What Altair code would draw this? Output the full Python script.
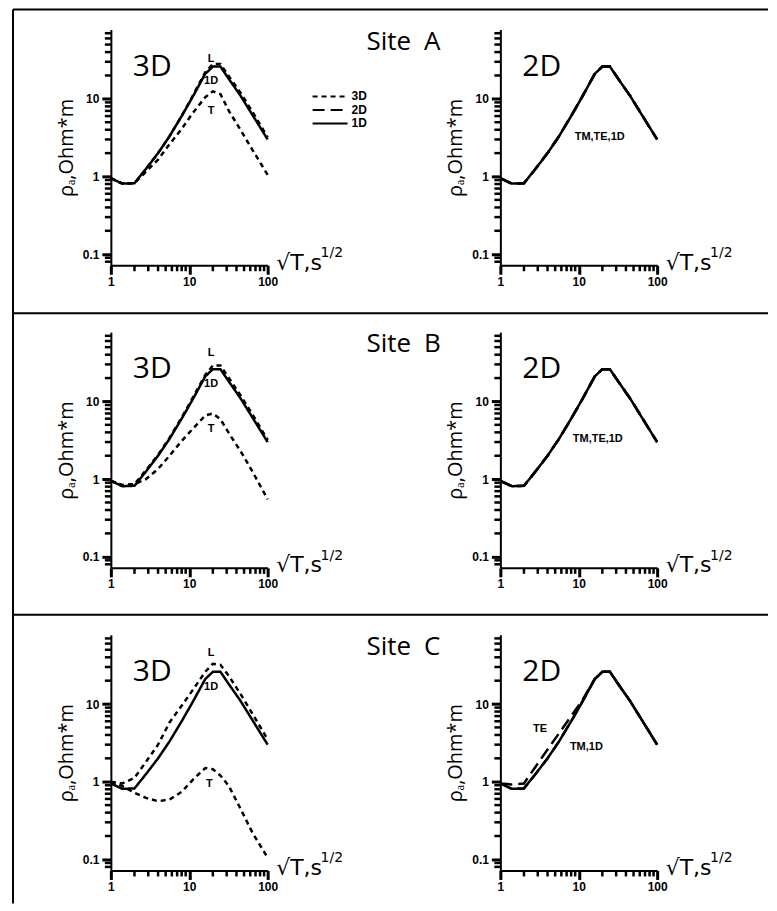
import altair as alt
import pandas as pd

# ---------------- data ----------------
SQRT_T = [1, 1.4, 2, 2.8, 4, 5.6, 8, 11, 16, 20, 25, 32, 45, 64, 100]

RHO_1D = [0.95, 0.81, 0.82, 1.25, 2.0, 3.3, 6.0, 10.5, 21, 26, 26, 18, 11, 6.2, 3.0]

A_3D_L = [0.95, 0.81, 0.82, 1.25, 2.0, 3.3, 6.0, 10.8, 22, 28, 28, 19.5, 12, 6.8, 3.2]
A_3D_T = [0.95, 0.81, 0.82, 1.15, 1.65, 2.6, 4.1, 6.5, 10.5, 12.5, 11.5, 7.0, 4.0, 2.2, 1.05]
B_3D_L = [0.95, 0.83, 0.86, 1.3, 2.05, 3.4, 6.2, 11, 22, 29, 29, 20, 12, 6.8, 3.2]
B_3D_T = [0.95, 0.84, 0.86, 1.0, 1.35, 2.0, 3.1, 4.4, 6.6, 7.0, 5.9, 3.9, 2.3, 1.25, 0.55]
C_3D_L = [1.0, 0.95, 1.12, 1.8, 3.0, 5.8, 9.5, 15, 26, 33, 32, 23, 13.5, 7.5, 3.5]
C_3D_T = [1.0, 0.88, 0.72, 0.62, 0.56, 0.59, 0.74, 1.05, 1.5, 1.45, 1.2, 0.88, 0.45, 0.22, 0.105]

A_2D_TE = [0.95, 0.81, 0.82, 1.25, 2.0, 3.3, 6.0, 10.5, 21, 26, 26, 18, 11, 6.2, 3.0]
A_2D_TM = [0.95, 0.81, 0.82, 1.25, 2.0, 3.3, 6.0, 10.5, 21, 26, 26, 18, 11, 6.2, 3.0]
B_2D_TE = [0.95, 0.81, 0.82, 1.25, 2.0, 3.3, 6.0, 10.5, 21, 26, 26, 18, 11, 6.2, 3.0]
B_2D_TM = [0.95, 0.81, 0.82, 1.25, 2.0, 3.3, 6.0, 10.5, 21, 26, 26, 18, 11, 6.2, 3.0]
C_2D_TE = [0.95, 0.92, 0.95, 1.55, 2.6, 4.2, 7.0, 11, 21, 26, 26, 18, 11, 6.2, 3.0]
C_2D_TM = [0.95, 0.81, 0.82, 1.25, 2.0, 3.3, 6.0, 10.5, 21, 26, 26, 18, 11, 6.2, 3.0]

SITES = ["Site\u2002A", "Site\u2002B", "Site\u2002C"]
MODELS = ["3D", "2D", "1D"]

X_MINOR = [2, 3, 4, 5, 6, 7, 8, 9, 20, 30, 40, 50, 60, 70, 80, 90]
X_MAJOR = [1, 10, 100]
Y_MINOR = [0.08, 0.09, 0.2, 0.3, 0.4, 0.5, 0.6, 0.7, 0.8, 0.9,
           2, 3, 4, 5, 6, 7, 8, 9, 20, 30, 40, 50, 60, 70]
Y_MAJOR = [0.1, 1, 10]
X_DOMAIN = [1, 100]
Y_DOMAIN = [0.072, 78]

# curve labels: (text, sqrtT, rho)
LAB_A3 = [("L", 19, 33), ("1D", 19, 17), ("T", 19, 7.0)]
LAB_B3 = [("L", 19, 42), ("1D", 19, 17), ("T", 19, 4.4)]
LAB_C3 = [("L", 19, 45), ("1D", 19, 16.8), ("T", 18, 0.94)]
LAB_A2 = [("TM,TE,1D", 18.5, 3.2)]
LAB_B2 = [("TM,TE,1D", 17.5, 3.3)]
LAB_C2 = [("TE", 3.2, 4.8), ("TM,1D", 12.5, 2.8)]

X_TITLE = "\u221aT,s"
X_TITLE_EXP = "1/2"
Y_TITLE = "\u03c1\u2090,Ohm*m"

W, H = 157, 236
TITLE_FONT = "Open Sans"
LABEL_FONT = "Liberation Sans"


def curves_df(curves):
    rows = []
    for name, model, vals in curves:
        for i, (x, v) in enumerate(zip(SQRT_T, vals)):
            rows.append({"sqrtT": x, "rho": v, "curve": name, "model": model, "i": i})
    return pd.DataFrame(rows)


x_scale = alt.Scale(type="log", domain=X_DOMAIN, nice=False)
y_scale = alt.Scale(type="log", domain=Y_DOMAIN, nice=False)
dash_scale = alt.Scale(domain=MODELS, range=[[5, 4], [12, 6], [1, 0]])

x_axis = alt.Axis(
    values=X_MAJOR, tickSize=9, tickWidth=3, tickColor="black",
    grid=False, labelOverlap=False, labelFlush=False, labelBound=False,
    labelPadding=2, format="~g",
    title=X_TITLE,
    titleX=W + 8, titleY=4, titleAlign="left", titleBaseline="alphabetic",
    titleAngle=0, titleFont="DejaVu Sans", titleFontSize=22, titleFontWeight="normal",
)
y_axis = alt.Axis(
    values=Y_MAJOR, tickSize=9, tickWidth=3, tickColor="black",
    grid=False, labelOverlap=False, labelFlush=False, labelBound=False,
    labelPadding=3, format="~g",
    title=Y_TITLE, titlePadding=6,
    titleFont=TITLE_FONT, titleFontSize=20, titleFontWeight="normal",
)


def panel(curves, labels, dim_text, site_text=None, legend=False, top_rule=None, left_rule=False):
    df = curves_df(curves)
    lines = alt.Chart(df).mark_line(color="black", strokeWidth=2.5).encode(
        x=alt.X("sqrtT:Q", scale=x_scale, axis=x_axis),
        y=alt.Y("rho:Q", scale=y_scale, axis=y_axis),
        strokeDash=alt.StrokeDash("model:N", scale=dash_scale, legend=None),
        detail="curve:N",
        order="i:Q",
    )
    # minor ticks, placed through the scales
    xmin = alt.Chart(pd.DataFrame({"sqrtT": X_MINOR})).mark_rule(color="black", strokeWidth=2.5).encode(
        x=alt.X("sqrtT:Q", scale=x_scale), y=alt.value(H), y2=alt.value(H + 6))
    ymin = alt.Chart(pd.DataFrame({"rho": Y_MINOR})).mark_rule(color="black", strokeWidth=2.5).encode(
        y=alt.Y("rho:Q", scale=y_scale), x=alt.value(-6), x2=alt.value(0))
    ldf = pd.DataFrame([{"text": t, "sqrtT": x, "rho": y} for t, x, y in labels])
    labs = alt.Chart(ldf).mark_text(
        font=LABEL_FONT, fontWeight="bold", fontSize=11, color="black"
    ).encode(x=alt.X("sqrtT:Q", scale=x_scale), y=alt.Y("rho:Q", scale=y_scale), text="text:N")
    one = pd.DataFrame({"text": [dim_text]})
    dim = alt.Chart(one).mark_text(
        font=TITLE_FONT, fontSize=30, align="left", baseline="alphabetic", color="black"
    ).encode(x=alt.value(22), y=alt.value(46), text="text:N")
    exp = alt.Chart(pd.DataFrame({"text": [X_TITLE_EXP]})).mark_text(
        font="DejaVu Sans", fontSize=14, align="left", baseline="alphabetic", color="black"
    ).encode(x=alt.value(W + 53), y=alt.value(H - 8), text="text:N")
    layers = [lines, xmin, ymin, labs, dim, exp]
    if site_text is not None:
        sdf = pd.DataFrame({"text": [site_text]})
        layers.append(alt.Chart(sdf).mark_text(
            font=TITLE_FONT, fontSize=26, align="left", baseline="alphabetic", color="black"
        ).encode(x=alt.value(256), y=alt.value(20), text="text:N"))
    if legend:
        for k, m in enumerate(MODELS):
            mdf = pd.DataFrame({"model": [m]})
            yk = 67 + 13.5 * k
            layers.append(alt.Chart(mdf).mark_rule(color="black", strokeWidth=2).encode(
                x=alt.value(202), x2=alt.value(237), y=alt.value(yk),
                strokeDash=alt.StrokeDash("model:N", scale=dash_scale, legend=None)))
            layers.append(alt.Chart(mdf).mark_text(
                font=LABEL_FONT, fontWeight="bold", fontSize=12, align="left",
                baseline="middle", color="black"
            ).encode(x=alt.value(241), y=alt.value(yk), text="model:N"))
    if top_rule is not None:
        layers.append(alt.Chart(one).mark_rule(color="black", strokeWidth=2).encode(
            x=alt.value(-98), x2=alt.value(658), y=alt.value(top_rule)))
    if left_rule:
        layers.append(alt.Chart(one).mark_rule(color="black", strokeWidth=2).encode(
            x=alt.value(-98), y=alt.value(-20), y2=alt.value(875)))
    return alt.layer(*layers).properties(width=W, height=H)


pA3 = panel([("L", "3D", A_3D_L), ("T", "3D", A_3D_T), ("1D", "1D", RHO_1D)], LAB_A3, "3D",
            SITES[0], legend=True, top_rule=-20, left_rule=True)
pA2 = panel([("TE", "2D", A_2D_TE), ("TM", "2D", A_2D_TM), ("1D", "1D", RHO_1D)], LAB_A2, "2D")
pB3 = panel([("L", "3D", B_3D_L), ("T", "3D", B_3D_T), ("1D", "1D", RHO_1D)], LAB_B3, "3D",
            SITES[1], top_rule=-19)
pB2 = panel([("TE", "2D", B_2D_TE), ("TM", "2D", B_2D_TM), ("1D", "1D", RHO_1D)], LAB_B2, "2D")
pC3 = panel([("L", "3D", C_3D_L), ("T", "3D", C_3D_T), ("1D", "1D", RHO_1D)], LAB_C3, "3D",
            SITES[2], top_rule=-20)
pC2 = panel([("TE", "2D", C_2D_TE), ("TM", "2D", C_2D_TM), ("1D", "1D", C_2D_TM)], LAB_C2, "2D")

chart = alt.concat(
    pA3, pA2, pB3, pB2, pC3, pC2,
    columns=2, spacing={"row": 67, "column": 233}, bounds="flush",
).resolve_scale(
    x="independent", y="independent", strokeDash="independent"
).properties(
    padding={"left": 4, "top": 0, "right": 0, "bottom": 0}
).configure_view(
    stroke=None
).configure_axis(
    domainColor="black", domainWidth=2, ticks=True,
    labelColor="black", labelFont=LABEL_FONT, labelFontWeight="bold", labelFontSize=12,
    titleColor="black",
)

chart.save("out.html", embed_options={"renderer": "svg", "actions": False})
